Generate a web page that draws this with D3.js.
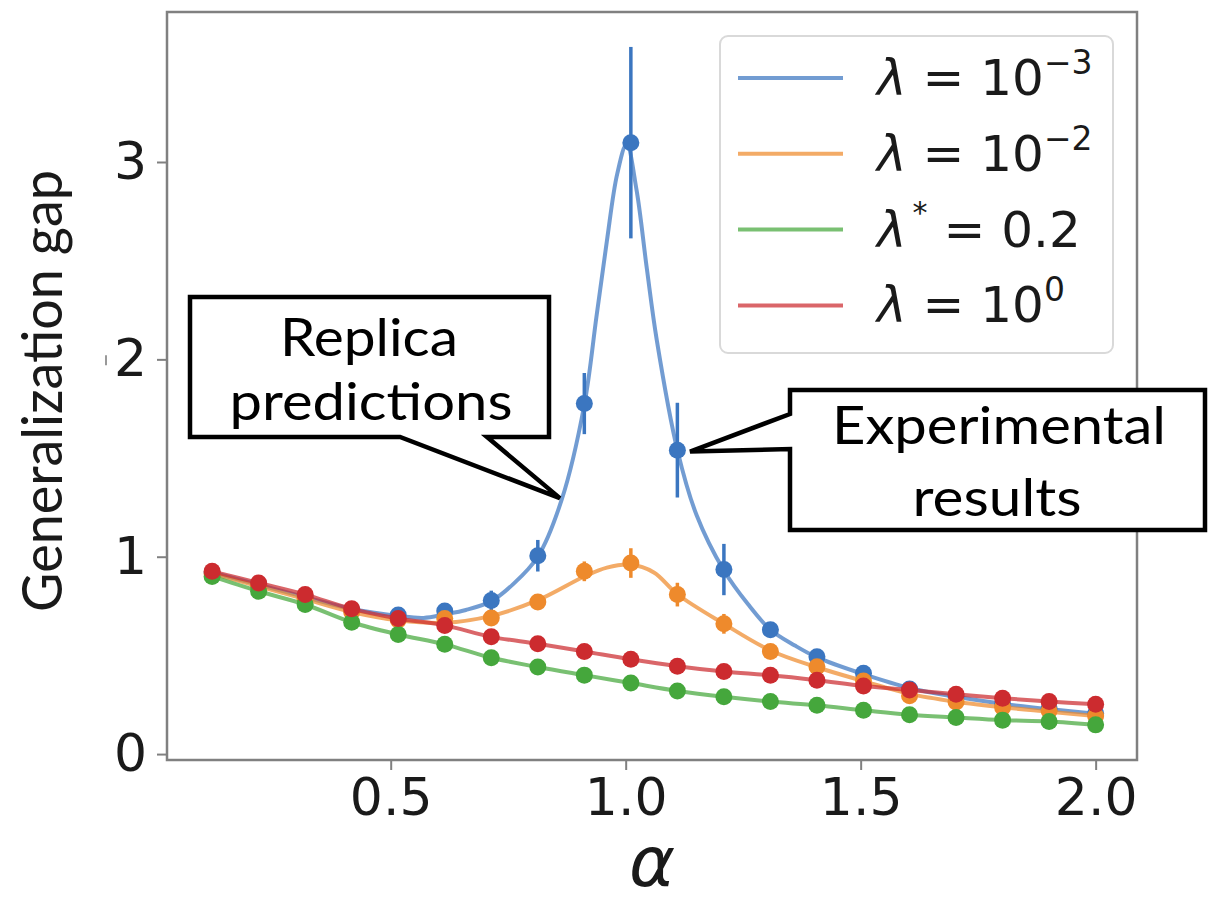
<!DOCTYPE html>
<html>
<head>
<meta charset="utf-8">
<script src="https://cdn.jsdelivr.net/npm/d3@7/dist/d3.min.js"></script>
<style>
  body { margin: 0; background: #fff; }
  text { white-space: pre; }
</style>
</head>
<body>
<svg id="chart" width="1211" height="902"></svg>
<script>

// experimental points (markers + error bars)
var alphas = [0.12, 0.219, 0.318, 0.417, 0.516, 0.615, 0.714, 0.813, 0.912, 1.011,
              1.110, 1.209, 1.308, 1.407, 1.506, 1.604, 1.703, 1.802, 1.901, 2.0];

var expBlue   = [0.92, 0.86, 0.795, 0.73, 0.705, 0.725, 0.778, 1.005, 1.776, 3.098,
                 1.54, 0.935, 0.63, 0.493, 0.409, 0.33, 0.29, 0.255, 0.228, 0.205];
var errBlue   = [0.01, 0.01, 0.01, 0.01, 0.02, 0.03, 0.05, 0.08, 0.155, 0.485,
                 0.24, 0.13, 0.03, 0.03, 0.02, 0.01, 0.01, 0.01, 0.01, 0.01];

var expOrange = [0.915, 0.85, 0.785, 0.72, 0.68, 0.687, 0.69, 0.771, 0.926, 0.968,
                 0.808, 0.66, 0.52, 0.443, 0.37, 0.295, 0.264, 0.237, 0.219, 0.193];
var errOrange = [0.01, 0.01, 0.01, 0.01, 0.01, 0.02, 0.03, 0.04, 0.05, 0.075,
                 0.06, 0.05, 0.03, 0.02, 0.01, 0.01, 0.01, 0.01, 0.01, 0.01];

var expGreen  = [0.90, 0.825, 0.758, 0.668, 0.606, 0.556, 0.488, 0.441, 0.40, 0.36,
                 0.32, 0.29, 0.266, 0.247, 0.222, 0.199, 0.185, 0.172, 0.165, 0.148];
var expRed    = [0.926, 0.867, 0.808, 0.736, 0.687, 0.652, 0.594, 0.559, 0.52, 0.48,
                 0.445, 0.418, 0.399, 0.374, 0.345, 0.325, 0.303, 0.283, 0.266, 0.253];
var errSmall  = [0.01, 0.01, 0.01, 0.01, 0.01, 0.01, 0.01, 0.01, 0.01, 0.01,
                 0.01, 0.01, 0.01, 0.01, 0.01, 0.01, 0.01, 0.01, 0.01, 0.01];

// replica predictions
var theoryBlueX = [0.12, 0.219, 0.318, 0.417, 0.516, 0.57, 0.615, 0.66, 0.714, 0.76, 0.813,
                   0.864, 0.912, 0.938, 0.960, 0.982, 1.002, 1.023, 1.045, 1.066, 1.110,
                   1.151, 1.209, 1.26, 1.308, 1.36, 1.407, 1.506, 1.604, 1.703, 1.802, 1.901, 2.0];
var theoryBlueY = [0.92, 0.858, 0.795, 0.735, 0.70, 0.69, 0.708, 0.73, 0.775, 0.86, 1.0,
                   1.29, 1.77, 2.22, 2.6, 2.94, 3.09, 2.86, 2.46, 2.10, 1.54,
                   1.21, 0.93, 0.76, 0.63, 0.55, 0.49, 0.405, 0.335, 0.29, 0.255, 0.228, 0.205];

var theoryOrangeX = [0.12, 0.219, 0.318, 0.417, 0.516, 0.615, 0.714, 0.813, 0.912, 0.96, 1.01,
                     1.06, 1.11, 1.209, 1.308, 1.407, 1.506, 1.604, 1.703, 1.802, 1.901, 2.0];
var theoryOrangeY = [0.915, 0.85, 0.785, 0.72, 0.678, 0.665, 0.70, 0.78, 0.90, 0.945, 0.96,
                     0.92, 0.81, 0.66, 0.525, 0.44, 0.37, 0.305, 0.265, 0.237, 0.215, 0.193];

var seriesNames  = ["λ = 10⁻³", "λ = 10⁻²", "λ* = 0.2", "λ = 10⁰"];
var seriesColors = ["#3b76c0", "#ee8a2c", "#45a73c", "#cc2b2f"];

var xTicks = [0.5, 1.0, 1.5, 2.0];
var yTicks = [0, 1, 2, 3];

var svg = d3.select("#chart");

var xScale = d3.scaleLinear().domain([0.024, 2.088]).range([167, 1137]);
var yScale = d3.scaleLinear().domain([-0.03, 3.76]).range([760, 12]);

function pts(xs, ys) {
    return xs.map(function (x, i) { return {x: x, y: ys[i]}; });
}

var series = [
    {theory: pts(theoryBlueX, theoryBlueY),     exp: pts(alphas, expBlue),   err: errBlue},
    {theory: pts(theoryOrangeX, theoryOrangeY), exp: pts(alphas, expOrange), err: errOrange},
    {theory: pts(alphas, expGreen),             exp: pts(alphas, expGreen),  err: errSmall},
    {theory: pts(alphas, expRed),               exp: pts(alphas, expRed),    err: errSmall}
];

// axes
var xAxis = d3.axisBottom(xScale).tickValues(xTicks).tickFormat(d3.format(".1f"))
    .tickSizeInner(10).tickSizeOuter(0).tickPadding(8);
var yAxis = d3.axisLeft(yScale).tickValues(yTicks).tickFormat(d3.format("d"))
    .tickSizeInner(10).tickSizeOuter(0).tickPadding(10);

var gx = svg.append("g").attr("transform", "translate(0,760)").call(xAxis);
var gy = svg.append("g").attr("transform", "translate(167,0)").call(yAxis);

[gx, gy].forEach(function (g) {
    g.select(".domain").remove();
    g.selectAll(".tick line").attr("stroke", "#808080").attr("stroke-width", 2);
    g.selectAll(".tick text")
        .attr("fill", "#1a1a1a")
        .style("font-family", "DejaVu Sans")
        .style("font-size", "52px");
});

// frame
svg.append("rect")
    .attr("x", 167).attr("y", 12)
    .attr("width", 1137 - 167).attr("height", 760 - 12)
    .attr("fill", "none")
    .attr("stroke", "#808080")
    .attr("stroke-width", 2.5);

// small stray mark left of the "2"
svg.append("line")
    .attr("x1", 106).attr("x2", 106)
    .attr("y1", yScale(2) - 4).attr("y2", yScale(2) + 6)
    .attr("stroke", "#999").attr("stroke-width", 2);

var line = d3.line()
    .x(function (d) { return xScale(d.x); })
    .y(function (d) { return yScale(d.y); })
    .curve(d3.curveCatmullRom.alpha(0.5));

series.forEach(function (s, k) {
    var color = seriesColors[k];
    var g = svg.append("g");

    g.append("path")
        .datum(s.theory)
        .attr("d", line)
        .attr("fill", "none")
        .attr("stroke", color)
        .attr("stroke-opacity", 0.72)
        .attr("stroke-width", 4);

    g.selectAll("line.err")
        .data(s.exp)
        .enter()
        .append("line")
        .attr("class", "err")
        .attr("x1", function (d) { return xScale(d.x); })
        .attr("x2", function (d) { return xScale(d.x); })
        .attr("y1", function (d, i) { return yScale(d.y - s.err[i]); })
        .attr("y2", function (d, i) { return yScale(d.y + s.err[i]); })
        .attr("stroke", color)
        .attr("stroke-width", 3.5);

    g.selectAll("circle")
        .data(s.exp)
        .enter()
        .append("circle")
        .attr("cx", function (d) { return xScale(d.x); })
        .attr("cy", function (d) { return yScale(d.y); })
        .attr("r", 8.5)
        .attr("fill", color);
});

// legend
var legend = svg.append("g");
legend.append("rect")
    .attr("x", 720).attr("y", 36)
    .attr("width", 393).attr("height", 317)
    .attr("rx", 8)
    .attr("fill", "#fff").attr("fill-opacity", 0.85)
    .attr("stroke", "#d9d9d9").attr("stroke-width", 2);

var legendParts = [
    {sup: "",  rest: " = 10", exp: "−3"},
    {sup: "",  rest: " = 10", exp: "−2"},
    {sup: "*", rest: " = 0.2", exp: ""},
    {sup: "",  rest: " = 10", exp: "0"}
];

legendParts.forEach(function (p, i) {
    var ly = 78 + i * 75.8;
    legend.append("line")
        .attr("x1", 738).attr("x2", 843)
        .attr("y1", ly).attr("y2", ly)
        .attr("stroke", seriesColors[i])
        .attr("stroke-opacity", 0.72)
        .attr("stroke-width", 4);

    var t = legend.append("text")
        .attr("x", 877).attr("y", ly + 17)
        .attr("fill", "#1a1a1a")
        .attr("aria-label", seriesNames[i])
        .style("font-family", "DejaVu Sans")
        .style("font-size", "50px");
    t.append("tspan").style("font-style", "italic").text("λ");
    if (p.sup) {
        t.append("tspan").attr("dx", 6).attr("dy", -24).style("font-size", "30px").text(p.sup);
        t.append("tspan").attr("dy", 24).text(p.rest);
    } else {
        t.append("tspan").text(p.rest);
    }
    if (p.exp) {
        t.append("tspan").attr("dy", -21).style("font-size", "33px").text(p.exp);
    }
});

// axis labels
svg.append("text")
    .attr("x", 652).attr("y", 886)
    .attr("text-anchor", "middle")
    .attr("fill", "#1a1a1a")
    .style("font-family", "DejaVu Sans")
    .style("font-style", "italic")
    .style("font-size", "70px")
    .text("α");

svg.append("text")
    .attr("transform", "translate(62,391) rotate(-90)")
    .attr("text-anchor", "middle")
    .attr("fill", "#1a1a1a")
    .attr("textLength", 442)
    .attr("lengthAdjust", "spacingAndGlyphs")
    .style("font-family", "Lato")
    .style("font-size", "56px")
    .text("Generalization gap");

// callouts
var replicaTip = {x: 0.860, y: 1.297};
var expTip = {x: 1.137, y: 1.533};

var rx = xScale(replicaTip.x), ry = yScale(replicaTip.y);
svg.append("path")
    .attr("d", "M190,297 H549 V437 H487 L" + rx + "," + ry + " L400,437 H190 Z")
    .attr("fill", "#fff")
    .attr("stroke", "#000")
    .attr("stroke-width", 4.5);

var ex = xScale(expTip.x), ey = yScale(expTip.y);
svg.append("path")
    .attr("d", "M790,390 H1205 V530 H790 V449 L" + ex + "," + ey + " L790,414 Z")
    .attr("fill", "#fff")
    .attr("stroke", "#000")
    .attr("stroke-width", 4.5);

var calloutText = [
    {text: "Replica",      x: 369,  y: 356, w: 178},
    {text: "predictions",  x: 371,  y: 420, w: 283},
    {text: "Experimental", x: 999,  y: 444, w: 334},
    {text: "results",      x: 997,  y: 516, w: 169}
];

svg.selectAll("text.callout")
    .data(calloutText)
    .enter()
    .append("text")
    .attr("class", "callout")
    .attr("x", function (d) { return d.x; })
    .attr("y", function (d) { return d.y; })
    .attr("text-anchor", "middle")
    .attr("textLength", function (d) { return d.w; })
    .attr("lengthAdjust", "spacingAndGlyphs")
    .attr("fill", "#000")
    .style("font-family", "Lato")
    .style("font-size", "53px")
    .text(function (d) { return d.text; });

</script>
</body>
</html>
